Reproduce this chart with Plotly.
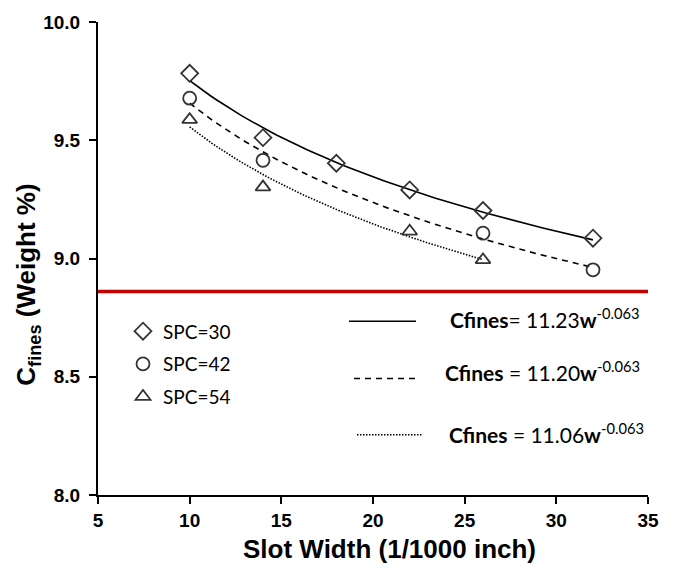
import numpy as np
import plotly.graph_objects as go

# ---- data ----
slot_30 = [10, 14, 18, 22, 26, 32]
cf_30 = [9.783, 9.511, 9.403, 9.290, 9.203, 9.086]
slot_42 = [10, 14, 26, 32]
cf_42 = [9.678, 9.415, 9.107, 8.952]
slot_54 = [10, 14, 22, 26]
cf_54 = [9.587, 9.302, 9.115, 8.994]
series_names = ["SPC=30", "SPC=42", "SPC=54"]
threshold = 8.86
x_ticks = [5, 10, 15, 20, 25, 30, 35]
y_ticks = [8.0, 8.5, 9.0, 9.5, 10.0]
x_title = "<b>Slot Width (1/1000 inch)</b>"
y_title = "<b>C<sub>fines</sub> (Weight %)</b>"
equations = [
    "<b>Cfines</b>= 11.23<b>w</b><sup>-0.063</sup>",
    "<b>Cfines</b> = 11.20<b>w</b><sup>-0.063</sup>",
    "<b>Cfines</b> = 11.06<b>w</b><sup>-0.063</sup>",
]

W, H = 675, 569
ML, MR, MT, MB = 98, 27, 16, 74
PW, PH = W - ML - MR, H - MT - MB


def px(xp):
    return (xp - ML) / PW


def py(yp):
    return (H - MB - yp) / PH


fig = go.Figure()

series = [(slot_30, cf_30, "diamond-open", "solid"),
          (slot_42, cf_42, "circle-open", "6px,5px"),
          (slot_54, cf_54, "triangle-up-open", "1.5px,1.5px")]

# power-law trend lines (least squares in log space, like a spreadsheet trendline)
for (xs, ys, sym, dash), name in zip(series, series_names):
    b, lna = np.polyfit(np.log(xs), np.log(ys), 1)
    xf = np.linspace(min(xs), max(xs), 80)
    yf = np.exp(lna) * xf ** b
    fig.add_trace(go.Scatter(x=xf, y=yf, mode="lines", showlegend=False,
                             line=dict(color="black", width=1.6, dash=dash),
                             hoverinfo="skip"))

for i, ((xs, ys, sym, dash), name) in enumerate(zip(series, series_names)):
    fig.add_trace(go.Scatter(
        x=xs, y=ys, mode="markers", name=name, legendgroup=f"g{i}",
        marker=dict(symbol=sym, size=13, color="#333333",
                    line=dict(color="#333333", width=1.8))))

# threshold line
fig.add_shape(type="line", xref="paper", yref="y", x0=0, x1=1,
              y0=threshold, y1=threshold,
              line=dict(color="#c00000", width=3.5), layer="above")

# equation keys
keys = [(349, 416, 319, "solid", 1.6), (354, 418, 377, "6px,5px", 1.6),
        (357, 423, 434, "1.5px,1.5px", 1.6)]
for x0, x1, yk, dash, lw in keys:
    fig.add_shape(type="line", xref="paper", yref="paper",
                  x0=px(x0), x1=px(x1), y0=py(yk), y1=py(yk),
                  line=dict(color="black", width=lw, dash=dash))

eq_pos = [(448, 316), (443, 369), (447, 432)]
for (xe, ye), txt in zip(eq_pos, equations):
    fig.add_annotation(x=px(xe), y=py(ye), xref="paper", yref="paper",
                       text=txt, showarrow=False, xanchor="left",
                       yanchor="middle",
                       font=dict(family="Lato", size=21, color="black"))

title_font = dict(family="Arial", size=26, color="black")
fig.add_annotation(x=px(389), y=py(550), xref="paper", yref="paper",
                   text=x_title, showarrow=False, xanchor="center",
                   yanchor="middle", font=title_font)
fig.add_annotation(x=px(28), y=py(282), xref="paper", yref="paper",
                   text=y_title, showarrow=False, xanchor="center",
                   yanchor="middle", textangle=-90, font=title_font)

axis_font = dict(family="Arial", size=19, color="black")

fig.update_layout(
    width=W, height=H,
    margin=dict(l=ML, r=MR, t=MT, b=MB),
    plot_bgcolor="white", paper_bgcolor="white",
    showlegend=True,
    legend=dict(x=px(123), y=py(310), xanchor="left", yanchor="top",
                font=dict(family="Lato", size=19, color="black"),
                bgcolor="rgba(0,0,0,0)", tracegroupgap=5,
                itemwidth=30, traceorder="grouped"),
    xaxis=dict(range=[5, 35], tickvals=x_ticks,
               ticktext=[f"<b>{v}</b>" for v in x_ticks],
               showgrid=False, zeroline=False, showline=True,
               linecolor="black", linewidth=2, ticks="outside",
               ticklen=7, tickwidth=2, tickcolor="black",
               tickfont=axis_font),
    yaxis=dict(range=[8.0, 10.0], tickvals=y_ticks,
               ticktext=[f"<b>{v:.1f}</b>" for v in y_ticks],
               showgrid=False, zeroline=False, showline=True,
               linecolor="black", linewidth=2, ticks="outside",
               ticklen=7, tickwidth=2, tickcolor="black",
               tickfont=axis_font, ticklabelstandoff=5),
)

fig.write_html("out.html")
